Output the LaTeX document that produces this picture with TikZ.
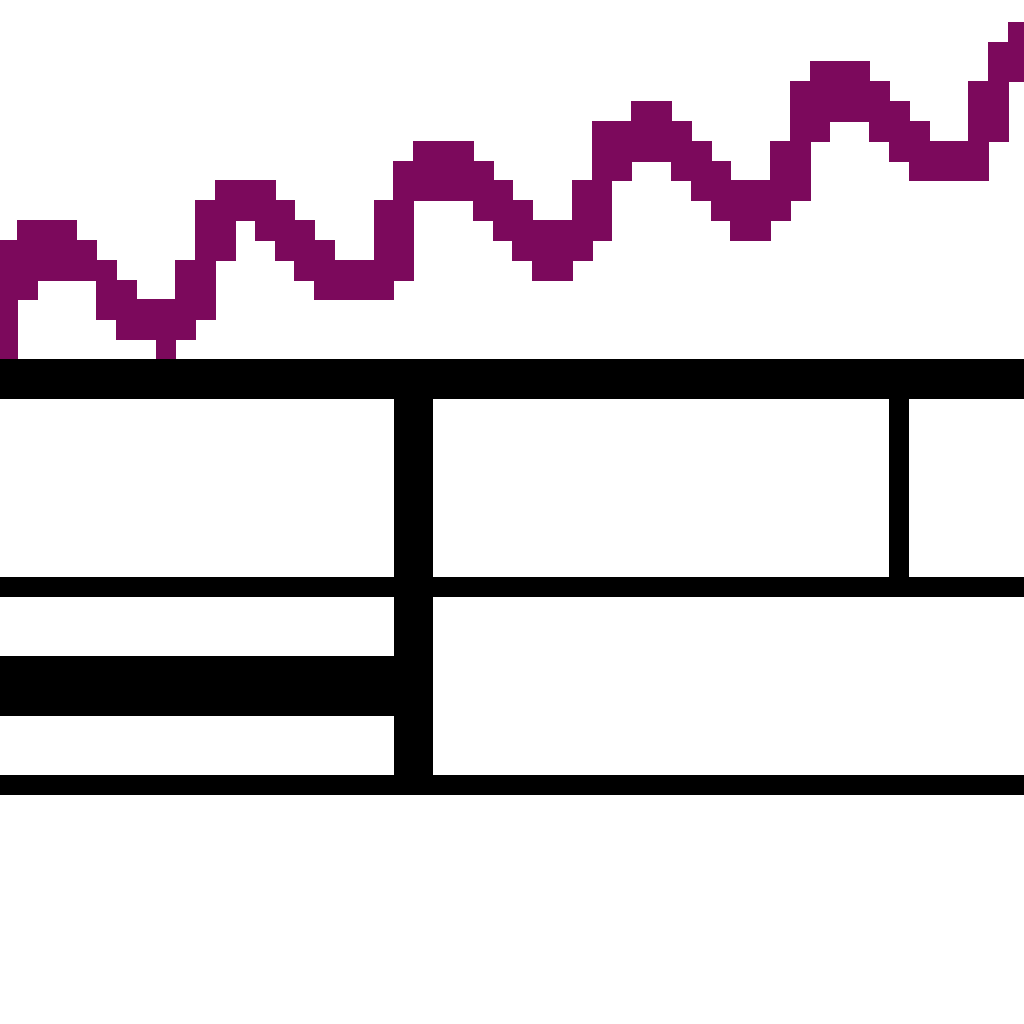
\documentclass[tikz,border=0pt]{standalone}
\usepackage{tikz}
\usetikzlibrary{positioning}
\definecolor{plum}{RGB}{124,9,92}
\tikzset{wave/.style={fill=plum,draw=plum,line width=.2pt}, bar/.style={fill=black}}

\begin{document}
\begin{tikzpicture}[x=.5cm,y=-.5cm]%the stepped wave over the bars
\useasboundingbox (-0.858,-18.11) rectangle (50.81,33.55);
%the wave, row by row from the top
\fill[wave] (50,-17) rectangle (52,-16);
\fill[wave] (49,-16) rectangle (52,-15);
\fill[wave] (40,-15) rectangle (43,-14); \fill[wave] (49,-15) rectangle (52,-14);
\fill[wave] (39,-14) rectangle (44,-13); \fill[wave] (48,-14) rectangle (50,-13);
\fill[wave] (31,-13) rectangle (33,-12); \fill[wave] (39,-13) rectangle (45,-12); \fill[wave] (48,-13) rectangle (50,-12);
\fill[wave] (29,-12) rectangle (34,-11); \fill[wave] (39,-12) rectangle (41,-11); \fill[wave] (43,-12) rectangle (46,-11); \fill[wave] (48,-12) rectangle (50,-11);
\fill[wave] (20,-11) rectangle (23,-10); \fill[wave] (29,-11) rectangle (35,-10); \fill[wave] (38,-11) rectangle (40,-10); \fill[wave] (44,-11) rectangle (49,-10);
\fill[wave] (19,-10) rectangle (24,-9); \fill[wave] (29,-10) rectangle (31,-9); \fill[wave] (33,-10) rectangle (36,-9); \fill[wave] (38,-10) rectangle (40,-9); \fill[wave] (45,-10) rectangle (49,-9);
\fill[wave] (10,-9) rectangle (13,-8); \fill[wave] (19,-9) rectangle (25,-8); \fill[wave] (28,-9) rectangle (30,-8); \fill[wave] (34,-9) rectangle (40,-8);
\fill[wave] (9,-8) rectangle (14,-7); \fill[wave] (18,-8) rectangle (20,-7); \fill[wave] (23,-8) rectangle (26,-7); \fill[wave] (28,-8) rectangle (30,-7); \fill[wave] (35,-8) rectangle (39,-7);
\fill[wave] (0,-7) rectangle (3,-6); \fill[wave] (9,-7) rectangle (11,-6); \fill[wave] (12,-7) rectangle (15,-6); \fill[wave] (18,-7) rectangle (20,-6); \fill[wave] (24,-7) rectangle (30,-6); \fill[wave] (36,-7) rectangle (38,-6);
\fill[wave] (-1,-6) rectangle (4,-5); \fill[wave] (9,-6) rectangle (11,-5); \fill[wave] (13,-6) rectangle (16,-5); \fill[wave] (18,-6) rectangle (20,-5); \fill[wave] (25,-6) rectangle (29,-5);
\fill[wave] (-1,-5) rectangle (5,-4); \fill[wave] (8,-5) rectangle (10,-4); \fill[wave] (14,-5) rectangle (20,-4); \fill[wave] (26,-5) rectangle (28,-4);
\fill[wave] (-1,-4) rectangle (1,-3); \fill[wave] (4,-4) rectangle (6,-3); \fill[wave] (8,-4) rectangle (10,-3); \fill[wave] (15,-4) rectangle (19,-3);
\fill[wave] (-1,-3) rectangle (0,-2); \fill[wave] (4,-3) rectangle (10,-2);
\fill[wave] (-1,-2) rectangle (0,-1); \fill[wave] (5,-2) rectangle (9,-1);
\fill[wave] (-1,-1) rectangle (0,0); \fill[wave] (7,-1) rectangle (8,0);
%the bars
\fill[bar] (-1,0) rectangle (52,2); %top bar
\fill[bar] (19,2) rectangle (21,21); %thick post
\fill[bar] (44,2) rectangle (45,11); %thin post
\fill[bar] (-1,11) rectangle (52,12); %middle line
\fill[bar] (-1,15) rectangle (19,18); %short thick bar
\fill[bar] (-1,21) rectangle (52,22); %bottom line
\end{tikzpicture}
\end{document}
